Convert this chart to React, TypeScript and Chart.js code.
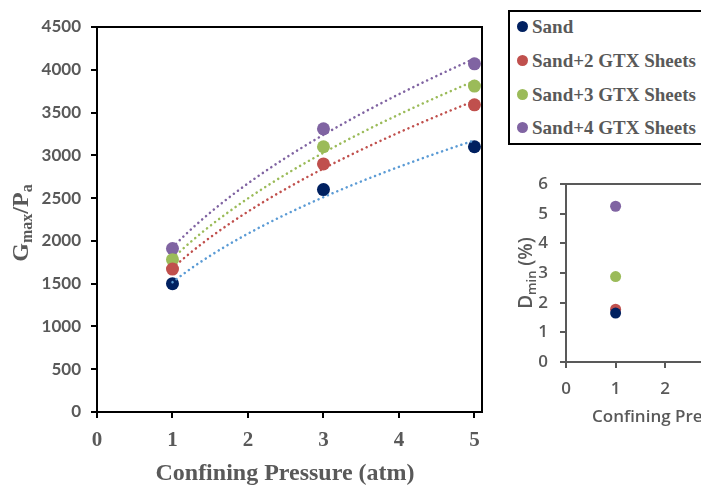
import React, { useEffect, useRef } from "react";
import { Chart, registerables } from "chart.js";

Chart.register(...registerables);

// ---------------- data ----------------
const seriesNames = ["Sand", "Sand+2 GTX Sheets", "Sand+3 GTX Sheets", "Sand+4 GTX Sheets"];
const pressures = [1, 3, 5];
const sandGmax = [1500, 2600, 3100];
const gtx2Gmax = [1670, 2900, 3590];
const gtx3Gmax = [1780, 3100, 3810];
const gtx4Gmax = [1910, 3310, 4070];

const dminPressure = [1];
const sandDmin = [1.65];
const gtx2Dmin = [1.78];
const gtx3Dmin = [2.88];
const gtx4Dmin = [5.25];

const mainXTicks = [0, 1, 2, 3, 4, 5];
const mainYTicks = [0, 500, 1000, 1500, 2000, 2500, 3000, 3500, 4000, 4500];
const insetXTicks = [0, 1, 2, 3, 4, 5];
const insetYTicks = [0, 1, 2, 3, 4, 5, 6];

const markerColors = ["#002060", "#C0504D", "#9BBB59", "#8064A2"];
const trendColors = ["#5B9BD5", "#C0504D", "#9BBB59", "#8064A2"];

const gmaxSeries = [sandGmax, gtx2Gmax, gtx3Gmax, gtx4Gmax];
const dminSeries = [sandDmin, gtx2Dmin, gtx3Dmin, gtx4Dmin];

// power-law trendline (least squares in log-log space), like a spreadsheet "power" trendline
function powerFit(xs: number[], ys: number[]) {
  const lx = xs.map(Math.log);
  const ly = ys.map(Math.log);
  const n = xs.length;
  const mx = lx.reduce((a, b) => a + b, 0) / n;
  const my = ly.reduce((a, b) => a + b, 0) / n;
  let sxy = 0, sxx = 0;
  for (let i = 0; i < n; i++) {
    sxy += (lx[i] - mx) * (ly[i] - my);
    sxx += (lx[i] - mx) * (lx[i] - mx);
  }
  const b = sxy / sxx;
  const a = Math.exp(my - b * mx);
  return (x: number) => a * Math.pow(x, b);
}

function trendPoints(xs: number[], ys: number[]) {
  const f = powerFit(xs, ys);
  const x0 = Math.min(...xs);
  const x1 = Math.max(...xs);
  const pts: { x: number; y: number }[] = [];
  const steps = 60;
  for (let i = 0; i <= steps; i++) {
    const x = x0 + ((x1 - x0) * i) / steps;
    pts.push({ x, y: f(x) });
  }
  return pts;
}

const GRAY = "#595959";
const SERIF = '"Liberation Serif", "Times New Roman", serif';
const SANS = 'Lato, "Open Sans", sans-serif';
const SANS2 = '"Open Sans", Lato, sans-serif';

// ------------- plugins ---------------
const frameMain = {
  id: "frameMain",
  afterDraw(chart: any) {
    const { ctx, chartArea } = chart;
    ctx.save();
    ctx.strokeStyle = "#000";
    ctx.lineWidth = 2;
    ctx.beginPath();
    ctx.moveTo(chartArea.left, chartArea.top);
    ctx.lineTo(chartArea.right, chartArea.top);
    ctx.lineTo(chartArea.right, chartArea.bottom);
    ctx.stroke();

    // x title
    ctx.fillStyle = GRAY;
    ctx.font = `bold 24px ${SERIF}`;
    ctx.textAlign = "center";
    ctx.textBaseline = "alphabetic";
    ctx.fillText("Confining Pressure (atm)", 285, 480);

    // y title with subscripts: G_max / P_a
    const parts = [
      { t: "G", size: 24, dy: 0 },
      { t: "max", size: 16, dy: 4 },
      { t: "/P", size: 24, dy: 0 },
      { t: "a", size: 16, dy: 4 },
    ];
    let total = 0;
    const widths = parts.map((p) => {
      ctx.font = `bold ${p.size}px ${SERIF}`;
      const w = ctx.measureText(p.t).width;
      total += w;
      return w;
    });
    ctx.translate(28, 223);
    ctx.rotate(-Math.PI / 2);
    ctx.textAlign = "left";
    let x = -total / 2;
    parts.forEach((p, i) => {
      ctx.font = `bold ${p.size}px ${SERIF}`;
      ctx.fillText(p.t, x, p.dy);
      x += widths[i];
    });
    ctx.restore();
  },
};

const frameInset = {
  id: "frameInset",
  afterDraw(chart: any) {
    const { ctx, chartArea } = chart;
    ctx.save();
    ctx.strokeStyle = GRAY;
    ctx.lineWidth = 2;
    ctx.beginPath();
    ctx.moveTo(chartArea.left, chartArea.top);
    ctx.lineTo(chartArea.right, chartArea.top);
    ctx.lineTo(chartArea.right, chartArea.bottom);
    ctx.stroke();

    ctx.fillStyle = GRAY;
    ctx.font = `600 17px ${SANS2}`;
    ctx.textAlign = "left";
    ctx.textBaseline = "alphabetic";
    ctx.fillText("Confining Pressure (atm)", 92, 262);

    // y title D_min (%)
    const parts = [
      { t: "D", size: 19, dy: 0 },
      { t: "min", size: 13, dy: 4 },
      { t: " (%)", size: 19, dy: 0 },
    ];
    let total = 0;
    const widths = parts.map((p) => {
      ctx.font = `600 ${p.size}px ${SANS2}`;
      const w = ctx.measureText(p.t).width;
      total += w;
      return w;
    });
    ctx.translate(32, 113);
    ctx.rotate(-Math.PI / 2);
    let x = -total / 2;
    parts.forEach((p, i) => {
      ctx.font = `600 ${p.size}px ${SANS2}`;
      ctx.fillText(p.t, x, p.dy);
      x += widths[i];
    });
    ctx.restore();
  },
};

function axisCommon(color: string) {
  return {
    grid: {
      display: true,
      drawOnChartArea: false,
      drawTicks: true,
      tickLength: 6,
      color,
      lineWidth: 2,
    },
    border: { display: true, color, width: 2 },
  };
}

const plain = (v: any) => String(v);

export default function App() {
  const mainRef = useRef<HTMLCanvasElement>(null);
  const insetRef = useRef<HTMLCanvasElement>(null);

  useEffect(() => {
    const pointSets = gmaxSeries.map((ys, i) => ({
      type: "scatter" as const,
      label: seriesNames[i],
      data: pressures.map((x, j) => ({ x, y: ys[j] })),
      backgroundColor: markerColors[i],
      borderColor: markerColors[i],
      pointRadius: 6.5,
      pointHoverRadius: 6.5,
      borderWidth: 0,
      order: 2,
    }));
    const trendSets = gmaxSeries.map((ys, i) => ({
      type: "line" as const,
      label: seriesNames[i] + " trend",
      data: trendPoints(pressures, ys),
      borderColor: trendColors[i],
      borderWidth: 2.5,
      borderDash: [0.1, 5],
      borderCapStyle: "round" as const,
      pointRadius: 0,
      tension: 0,
      fill: false,
      order: 1,
    }));

    const main = new Chart(mainRef.current!, {
      type: "scatter",
      data: { datasets: [...pointSets, ...trendSets] as any },
      options: {
        responsive: false,
        animation: false,
        devicePixelRatio: 1,
        layout: { autoPadding: false, padding: { left: 0, top: 27, right: 219, bottom: 0 } },
        plugins: { legend: { display: false }, tooltip: { enabled: false } },
        scales: {
          x: {
            type: "linear",
            min: 0,
            max: 5.1,
            afterBuildTicks: (s: any) => {
              s.ticks = mainXTicks.map((v) => ({ value: v }));
            },
            afterFit: (s: any) => {
              s.height = 73;
            },
            ...axisCommon("#000"),
            ticks: {
              color: GRAY,
              padding: 10,
              maxRotation: 0,
              callback: plain,
              font: { family: SERIF, size: 21, weight: "bold" },
            },
          },
          y: {
            type: "linear",
            min: 0,
            max: 4500,
            afterBuildTicks: (s: any) => {
              s.ticks = mainYTicks.map((v) => ({ value: v }));
            },
            afterFit: (s: any) => {
              s.width = 97;
            },
            ...axisCommon("#000"),
            ticks: {
              color: GRAY,
              padding: 10,
              callback: plain,
              font: { family: SANS, size: 17, weight: "bold" },
            },
          },
        } as any,
      },
      plugins: [frameMain],
    });

    const insetSets = dminSeries.map((ys, i) => ({
      label: seriesNames[i],
      data: dminPressure.map((x, j) => ({ x, y: ys[j] })),
      backgroundColor: markerColors[i],
      borderColor: markerColors[i],
      pointRadius: 5.5,
      pointHoverRadius: 5.5,
      borderWidth: 0,
    }));

    const inset = new Chart(insetRef.current!, {
      type: "scatter",
      data: { datasets: insetSets },
      options: {
        responsive: false,
        animation: false,
        devicePixelRatio: 1,
        layout: { autoPadding: false, padding: { left: 0, top: 24, right: 46, bottom: 0 } },
        plugins: { legend: { display: false }, tooltip: { enabled: false } },
        scales: {
          x: {
            type: "linear",
            min: 0,
            max: 5,
            afterBuildTicks: (s: any) => {
              s.ticks = insetXTicks.map((v) => ({ value: v }));
            },
            afterFit: (s: any) => {
              s.height = 98;
            },
            ...axisCommon(GRAY),
            ticks: {
              color: GRAY,
              padding: 11,
              maxRotation: 0,
              callback: plain,
              font: { family: SANS2, size: 17, weight: "600" },
            },
          },
          y: {
            type: "linear",
            min: 0,
            max: 6,
            afterBuildTicks: (s: any) => {
              s.ticks = insetYTicks.map((v) => ({ value: v }));
            },
            afterFit: (s: any) => {
              s.width = 66;
            },
            ...axisCommon(GRAY),
            ticks: {
              color: GRAY,
              padding: 12,
              callback: plain,
              font: { family: SANS2, size: 17, weight: "600" },
            },
          },
        } as any,
      },
      plugins: [frameInset],
    });

    return () => {
      main.destroy();
      inset.destroy();
    };
  }, []);

  const rowTops = [2.6, 36.6, 70.6, 103.6];

  return (
    <div
      style={{
        position: "fixed",
        left: 0,
        top: 0,
        width: 701,
        height: 485,
        overflow: "hidden",
        background: "#fff",
      }}
    >
      <canvas
        ref={mainRef}
        width={701}
        height={485}
        style={{ position: "absolute", left: 0, top: 0, width: 701, height: 485, display: "block" }}
      />
      <canvas
        ref={insetRef}
        width={360}
        height={300}
        style={{ position: "absolute", left: 500, top: 160, width: 360, height: 300, display: "block" }}
      />
      <div
        style={{
          position: "absolute",
          left: 508,
          top: 10,
          width: 210,
          height: 135,
          boxSizing: "border-box",
          border: "2px solid #000",
          background: "#fff",
        }}
      >
        {seriesNames.map((name, i) => (
          <div
            key={name}
            style={{
              position: "absolute",
              left: 6.5,
              top: rowTops[i],
              height: 24,
              lineHeight: "24px",
              display: "flex",
              alignItems: "center",
              whiteSpace: "nowrap",
              fontFamily: SERIF,
              fontWeight: "bold",
              fontSize: 19,
              color: GRAY,
            }}
          >
            <span
              style={{
                display: "inline-block",
                width: 11,
                height: 11,
                borderRadius: "50%",
                background: markerColors[i],
                marginRight: 4.5,
              }}
            />
            <span>{name}</span>
          </div>
        ))}
      </div>
    </div>
  );
}
